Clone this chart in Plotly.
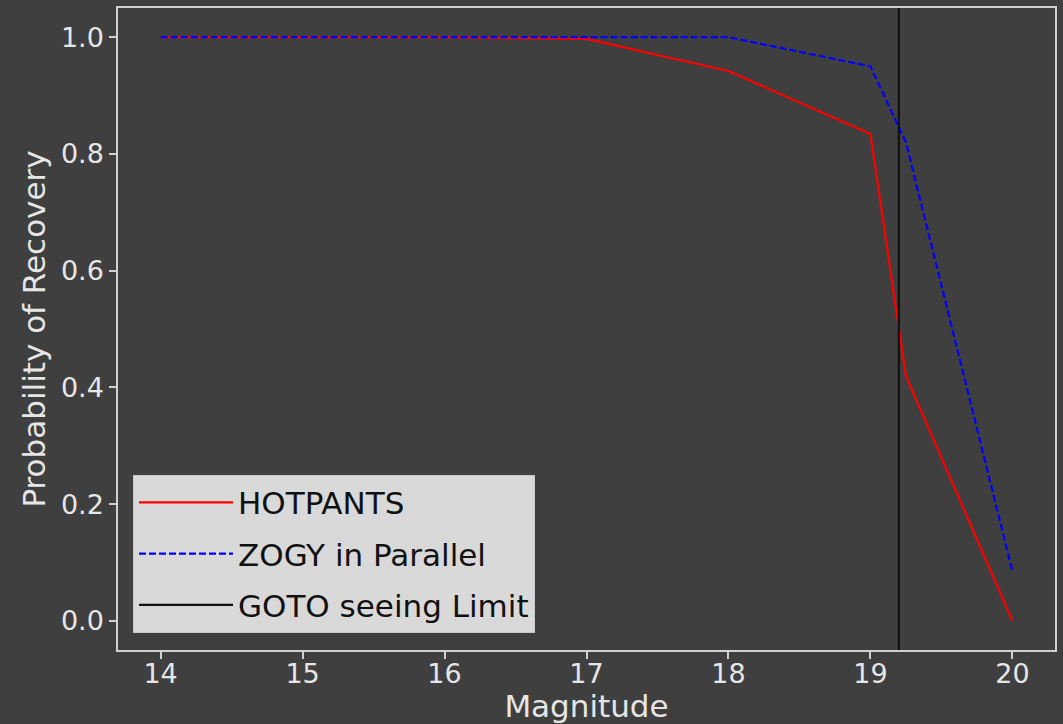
import plotly.graph_objects as go

magnitude = [14, 15, 16, 17, 18, 19, 19.25, 20]
hotpants = [1.0, 1.0, 1.0, 0.997, 0.942, 0.834, 0.419, 0.0]
zogy = [1.0, 1.0, 1.0, 1.0, 1.0, 0.95, 0.82, 0.085]
seeing_limit = 19.2

bg = "#3f3f3f"
fg = "#e6e6e6"
font = "DejaVu Sans"

fig = go.Figure()
fig.add_trace(go.Scatter(x=magnitude, y=hotpants, mode="lines", name="HOTPANTS",
                         legendgroup="a", line=dict(color="#ff0000", width=2.2)))
fig.add_trace(go.Scatter(x=magnitude, y=zogy, mode="lines", name="ZOGY in Parallel",
                         legendgroup="b", line=dict(color="#0000ff", width=2.2, dash="7px,3px")))
fig.add_trace(go.Scatter(x=[seeing_limit, seeing_limit], y=[-1, 2], mode="lines",
                         legendgroup="c", name="GOTO seeing Limit",
                         line=dict(color="#111111", width=2.2)))

axis_common = dict(showgrid=False, zeroline=False, showline=True, linecolor="#d0d0d0",
                   linewidth=1.5, mirror=True, ticks="outside", ticklen=7, tickwidth=1.5,
                   tickcolor="#d0d0d0", tickfont=dict(size=27, color=fg, family=font),
                   automargin=False)

fig.update_layout(
    width=1063, height=724,
    paper_bgcolor=bg, plot_bgcolor=bg,
    margin=dict(l=118, r=8, t=8, b=74),
    font=dict(family=font, color=fg),
    xaxis=dict(range=[13.7, 20.3], tickvals=[14, 15, 16, 17, 18, 19, 20],
               ticklabelstandoff=-8,
               title=dict(text="Magnitude", font=dict(size=31, color=fg), standoff=0),
               **axis_common),
    yaxis=dict(range=[-0.05, 1.05], tickvals=[0, 0.2, 0.4, 0.6, 0.8, 1.0], tickformat=".1f",
               title=dict(text="Probability of Recovery", font=dict(size=31, color=fg), standoff=6),
               **axis_common),
    legend=dict(x=0.016, y=0.027, xanchor="left", yanchor="bottom",
                bgcolor="#d9d9d9", bordercolor="#c8c8c8", borderwidth=1,
                font=dict(size=31, color="#111111", family=font),
                itemwidth=94, tracegroupgap=8),
    showlegend=True,
)

fig.write_html("out.html")
